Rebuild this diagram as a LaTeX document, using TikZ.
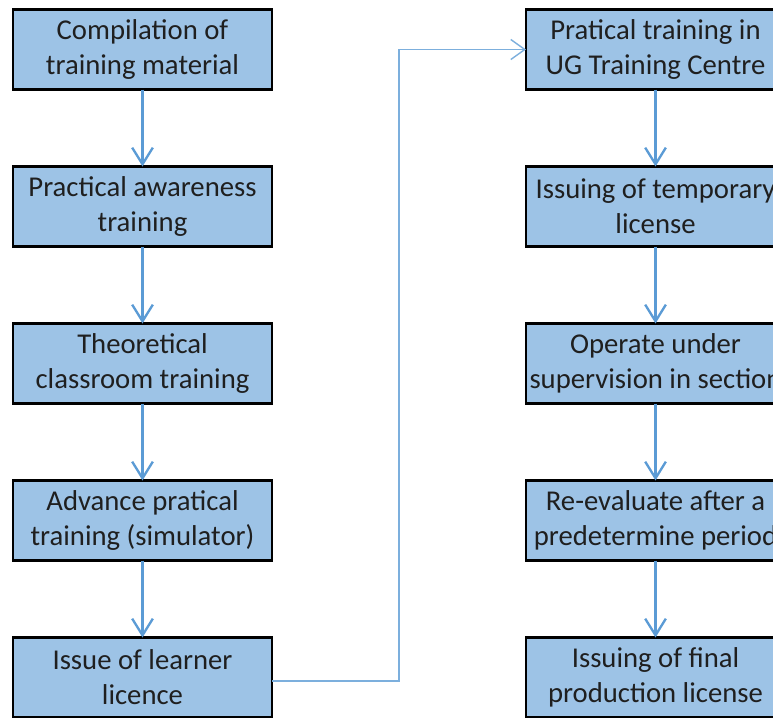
\documentclass[tikz,border=0pt]{standalone}
\usepackage{fontspec}
\setmainfont{Carlito}
\usetikzlibrary{arrows.meta,positioning,calc}

\definecolor{boxblue}{RGB}{157,195,230}
\definecolor{arrowblue}{RGB}{91,155,213}

\begin{document}
\begin{tikzpicture}[
    x=0.03cm, y=0.03cm,
    font=\fontsize{24.5pt}{30pt}\selectfont,
    % styles
    stage/.style={draw=black, line width=2.2pt, fill=boxblue, rectangle,
        minimum width=7.77cm, minimum height=2.4cm, align=center,
        inner sep=0pt, outer sep=0pt, text=black!88},
    flow/.style={draw=arrowblue, line width=2pt,
        -{Straight Barb[length=0.5cm, width=0.62cm, line width=2pt]}},
    link/.style={draw=arrowblue!80, line width=1.2pt,
        -{Straight Barb[length=0.42cm, width=0.6cm, line width=1.2pt]}},
    node distance=2.31cm
]
    \useasboundingbox (0,0) rectangle (773,-718);

    % --- left column ---
    \node[stage] (c1) at (142.5,-49.5) {Compilation of\\training material};
    \node[stage, below=of c1] (c2) {Practical awareness\\training};
    \node[stage, below=of c2] (c3) {Theoretical\\classroom training};
    \node[stage, below=of c3] (c4) {Advance pratical\\training (simulator)};
    \node[stage, below=of c4] (c5) {Issue of learner\\licence};

    % --- right column ---
    \node[stage, right=7.62cm of c1] (r1) {Pratical training in\\UG Training Centre};
    \node[stage, below=of r1] (r2) {Issuing of temporary\\license};
    \node[stage, below=of r2] (r3) {Operate under\\supervision in section};
    \node[stage, below=of r3] (r4) {Re-evaluate after a\\predetermine period};
    \node[stage, below=of r4] (r5) {Issuing of final\\production license};

    % --- arrows ---
    \draw[flow] (c1) -- (c2);
    \draw[flow] (c2) -- (c3);
    \draw[flow] (c3) -- (c4);
    \draw[flow] (c4) -- (c5);

    \draw[flow] (r1) -- (r2);
    \draw[flow] (r2) -- (r3);
    \draw[flow] (r3) -- (r4);
    \draw[flow] (r4) -- (r5);

    % learner licence -> UG training
    \draw[link] ([yshift=-0.1cm]c5.east) -| ($(c5.east)!0.5!(r5.west)$) |- (r1.west);
\end{tikzpicture}
\end{document}
